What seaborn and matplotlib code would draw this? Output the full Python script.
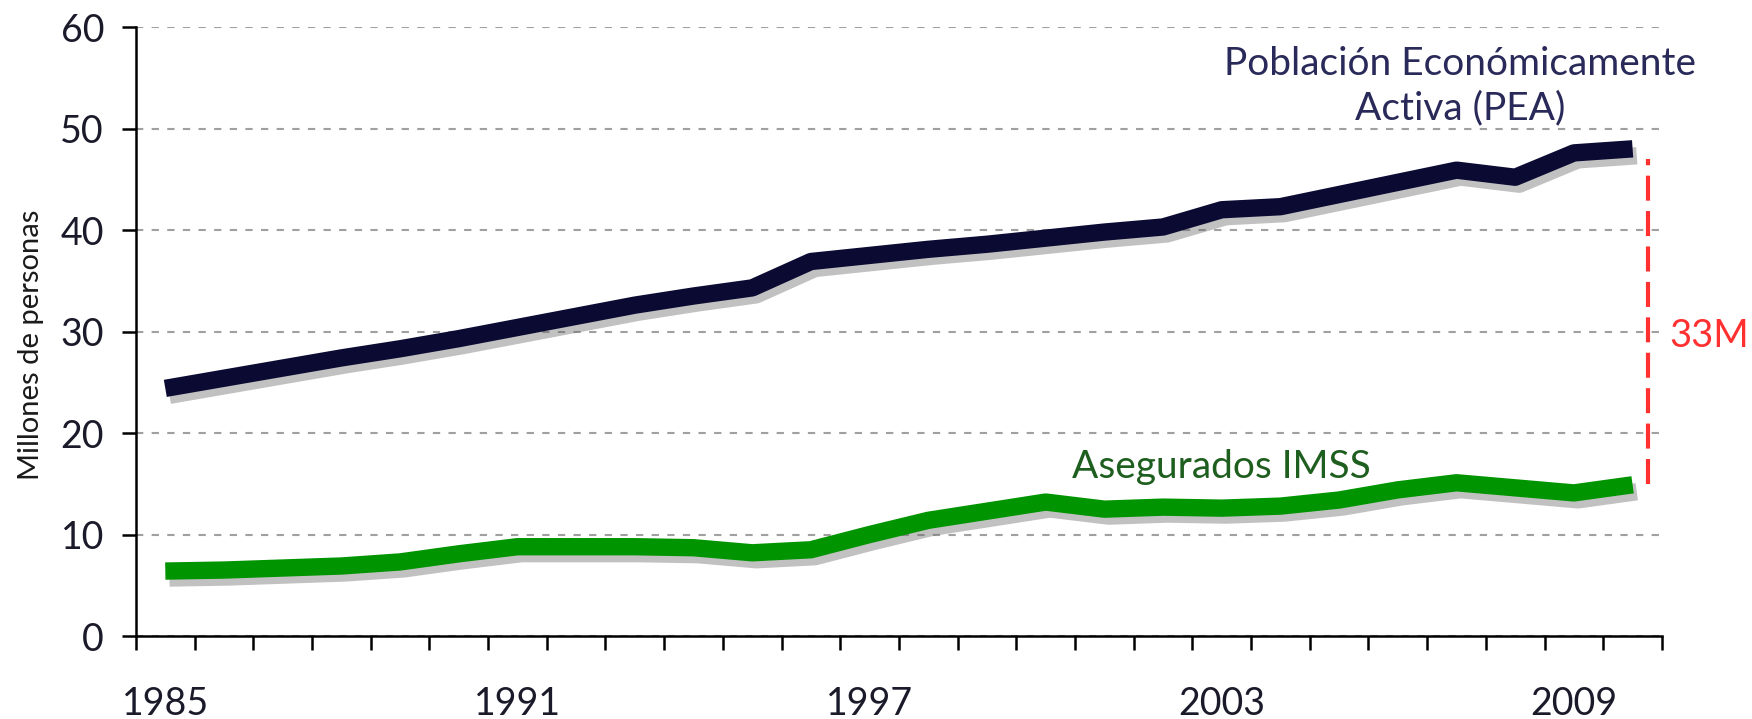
import numpy as np
import pandas as pd
import seaborn as sns
import matplotlib.pyplot as plt
import matplotlib.patheffects as pe

# datos (millones de personas)
anios = list(range(1985, 2011))
pea = [24.4, 25.4, 26.4, 27.4, 28.3, 29.3, 30.4, 31.5, 32.6, 33.5, 34.3, 36.9, 37.5,
       38.1, 38.6, 39.2, 39.8, 40.3, 42.0, 42.3, 43.5, 44.7, 45.9, 45.2, 47.6, 48.0]
imss = [6.4, 6.5, 6.7, 6.9, 7.3, 8.1, 8.8, 8.8, 8.8, 8.7, 8.2, 8.5, 10.0,
        11.4, 12.3, 13.2, 12.5, 12.7, 12.6, 12.8, 13.4, 14.4, 15.1, 14.6, 14.1, 14.9]
etiquetas_x = ['1985', '1991', '1997', '2003', '2009']
brecha = (15.0, 47.0)

df = pd.DataFrame({'idx': np.arange(len(anios)), 'anio': anios, 'PEA': pea, 'IMSS': imss})

sns.set_theme(style="white")
plt.rcParams['font.family'] = ['Lato', 'DejaVu Sans']

fig = plt.figure(figsize=(17.52, 7.19), dpi=100)
ax = fig.add_axes([0.0776, 0.1154, 0.871, 0.847])

sombra = [pe.SimpleLineShadow(offset=(3, -5), shadow_color='#666666', alpha=0.4), pe.Normal()]
sns.lineplot(data=df, x='idx', y='PEA', ax=ax, color='#0a0a33', linewidth=12.5,
             path_effects=sombra, solid_capstyle='butt', zorder=3)
sns.lineplot(data=df, x='idx', y='IMSS', ax=ax, color='#009400', linewidth=12.5,
             path_effects=sombra, solid_capstyle='butt', zorder=3)

ax.set_xlim(-0.5, len(anios) - 0.5)
ax.set_ylim(0, 60)
ax.set_yticks(range(0, 61, 10))
ax.yaxis.grid(True, color='#a0a0a0', linestyle=(0, (3.5, 4)), linewidth=1.5)
ax.set_axisbelow(True)

pos = [anios.index(int(a)) for a in etiquetas_x]
ax.set_xticks(pos)
ax.set_xticklabels(etiquetas_x)
ax.set_xticks(np.arange(-0.5, len(anios)), minor=True)
ax.tick_params(axis='x', which='major', length=0, pad=36, labelsize=27, labelcolor='#1a1a2a')
ax.tick_params(axis='x', which='minor', length=10, width=1.8, color='black', direction='out', bottom=True)
ax.tick_params(axis='y', length=10, width=1.8, color='black', direction='out', left=True,
               pad=13, labelsize=27, labelcolor='#1a1a2a')

for s in ['top', 'right']:
    ax.spines[s].set_visible(False)
for s in ['left', 'bottom']:
    ax.spines[s].set_color('black')
    ax.spines[s].set_linewidth(1.8)

ax.set_xlabel('')
ax.set_ylabel('')
fig.text(0.0177, 0.52, 'Millones de personas', rotation=90, ha='center', va='center',
         fontsize=21, color='#1a1a1a')

# anotaciones
ax.text(22.06, 56.4, 'Población Económicamente', ha='center', va='center', fontsize=28, color='#2a2a5a')
ax.text(22.06, 52.0, 'Activa (PEA)', ha='center', va='center', fontsize=28, color='#2a2a5a')
ax.text(18.0, 16.7, 'Asegurados IMSS', ha='center', va='center', fontsize=28, color='#1e5e1e')

ax.vlines(25.26, brecha[0], brecha[1], colors='#ff3030', linestyles=(0, (6, 2.5)), linewidth=3, zorder=4)
ax.text(25.63, 29.6, '33M', ha='left', va='center', fontsize=27.5, color='#ff3030', clip_on=False)

fig.savefig('out.png', dpi=100)
